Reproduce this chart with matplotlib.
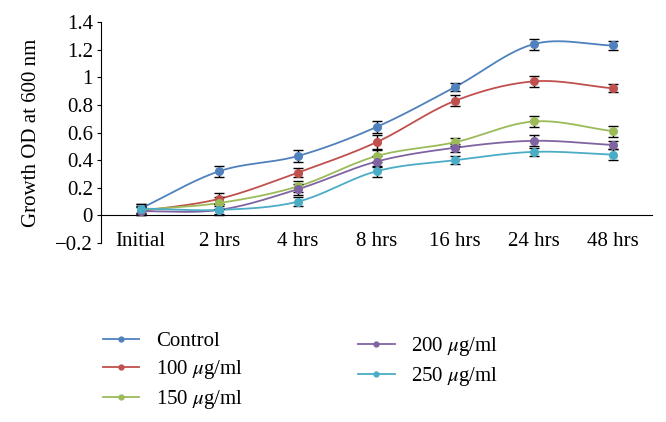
import numpy as np
import matplotlib
matplotlib.use("Agg")
import matplotlib.pyplot as plt
from matplotlib.lines import Line2D

categories = ["Initial", "2 hrs", "4 hrs", "8 hrs", "16 hrs", "24 hrs", "48 hrs"]
series_names = ["Control", "100 $\\mu$g/ml", "150 $\\mu$g/ml", "200 $\\mu$g/ml", "250 $\\mu$g/ml"]
control = [0.05, 0.32, 0.43, 0.64, 0.93, 1.24, 1.23]
ug100 = [0.03, 0.12, 0.31, 0.53, 0.83, 0.97, 0.92]
ug150 = [0.04, 0.09, 0.21, 0.43, 0.53, 0.68, 0.61]
ug200 = [0.03, 0.04, 0.19, 0.39, 0.49, 0.54, 0.51]
ug250 = [0.05, 0.04, 0.10, 0.32, 0.40, 0.46, 0.44]
err_control = [0.03, 0.04, 0.04, 0.04, 0.03, 0.04, 0.03]
err_100 = [0.03, 0.04, 0.03, 0.05, 0.04, 0.04, 0.03]
err_150 = [0.03, 0.04, 0.04, 0.04, 0.03, 0.04, 0.04]
err_200 = [0.03, 0.03, 0.04, 0.04, 0.03, 0.04, 0.03]
err_250 = [0.03, 0.04, 0.03, 0.04, 0.03, 0.03, 0.04]
colors = ["#4F81BD", "#C0504D", "#9BBB59", "#8064A2", "#4BACC6"]

values = [control, ug100, ug150, ug200, ug250]
errors = [err_control, err_100, err_150, err_200, err_250]

plt.rcParams['font.family'] = ['Liberation Serif', 'DejaVu Serif']
plt.rcParams['mathtext.fontset'] = 'stix'
FS = 15


def smooth(x, y, n=30):
    x = np.asarray(x, float); y = np.asarray(y, float)
    px = np.concatenate([[2 * x[0] - x[1]], x, [2 * x[-1] - x[-2]]])
    py = np.concatenate([[2 * y[0] - y[1]], y, [2 * y[-1] - y[-2]]])
    xs, ys = [], []
    t = np.linspace(0, 1, n)
    for i in range(1, len(px) - 2):
        p0, p1, p2, p3 = px[i-1], px[i], px[i+1], px[i+2]
        q0, q1, q2, q3 = py[i-1], py[i], py[i+1], py[i+2]
        for a, b, c, d, out in ((p0, p1, p2, p3, xs), (q0, q1, q2, q3, ys)):
            out.append(0.5 * ((2 * b) + (-a + c) * t + (2 * a - 5 * b + 4 * c - d) * t**2
                              + (-a + 3 * b - 3 * c + d) * t**3))
    return np.concatenate(xs), np.concatenate(ys)


fig = plt.figure(figsize=(6.66, 4.22), dpi=100)
ax = fig.add_axes([0.152, 0.424, 0.827, 0.524])
x = np.arange(len(categories))
handles = []
for vals, errs, col, name in zip(values, errors, colors, series_names):
    sx, sy = smooth(x, vals)
    ax.plot(sx, sy, color=col, lw=1.3, zorder=2)
    ax.errorbar(x, vals, yerr=errs, fmt='none', ecolor='black', elinewidth=1.0,
                capsize=3.5, capthick=1.0, zorder=3)
    ax.plot(x, vals, 'o', color=col, ms=5.5, zorder=4)
    handles.append(Line2D([0], [0], color=col, lw=1.3, marker='o', ms=3.5, label=name))

ax.set_xlim(-0.5, len(categories) - 0.5)
ax.set_ylim(-0.2, 1.4)
ax.set_yticks(np.arange(-0.2, 1.41, 0.2))
ax.set_yticklabels(["\u22120.2", "0", "0.2", "0.4", "0.6", "0.8", "1", "1.2", "1.4"])
ax.set_xticks(x)
ax.set_xticklabels(categories)
ax.spines['top'].set_visible(False)
ax.spines['right'].set_visible(False)
ax.spines['bottom'].set_position(('data', 0))
ax.tick_params(axis='x', length=0, labelsize=FS, pad=19)
ax.tick_params(axis='y', length=3, labelsize=FS, direction='out', pad=3)
for lab in ax.get_xticklabels():
    lab.set_verticalalignment('center')
ax.set_ylabel("Growth OD at 600 nm", fontsize=FS)
ax.yaxis.set_label_coords(-0.11, 0.5)

common = dict(frameon=False, fontsize=FS, handlelength=1.75, handletextpad=0.8,
              labelspacing=0.33, borderpad=0)
fig.legend(handles=handles[:3], loc='upper left', bbox_to_anchor=(0.139, 0.239), **common)
fig.legend(handles=handles[3:], loc='upper left', bbox_to_anchor=(0.522, 0.231), **common)

fig.savefig("out.png", dpi=100)
